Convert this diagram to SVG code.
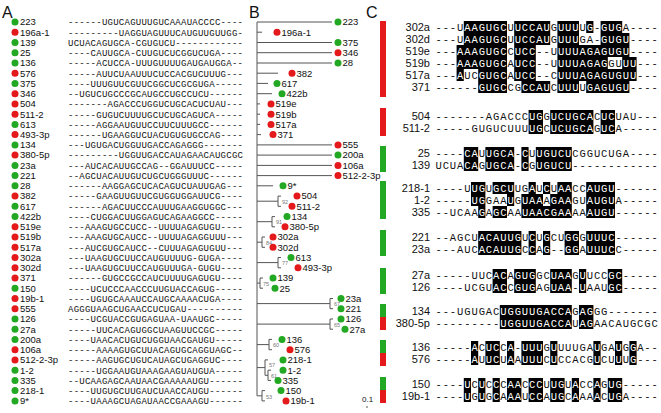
<svg xmlns="http://www.w3.org/2000/svg" width="661" height="413" viewBox="0 0 661 413">
<style>
text{font-family:"Liberation Sans",Arial,sans-serif;fill:#111}
.pl{font-size:16px}
.nm{font-size:9.5px}
.sa{font-family:"Liberation Mono",monospace;font-size:9px;letter-spacing:0.25px}
.sc{font-family:"Liberation Mono",monospace;font-size:10.5px;letter-spacing:0.9px}
.cn{font-size:11px;text-anchor:end}
.w{fill:#fff}
.g{fill:#22a822}
.r{fill:#e3191c}
.tl{stroke:#555;stroke-width:1;fill:none}
.bs{font-size:5.5px;fill:#777}
.hl{fill:#000}
</style>
<rect width="661" height="413" fill="#fff"/>
<text class="pl" x="2" y="18">A</text>
<text class="pl" x="249" y="18">B</text>
<text class="pl" x="366" y="18">C</text>

<!-- Panel A -->
<g id="panelA">
<g id="a-223"><circle class="g" cx="15" cy="22" r="3.5"/><text class="nm" x="20" y="25.3">223</text><text class="sa" x="68" y="25.3">------UGUCAGUUUGUCAAAUACCCC----</text></g>
<g id="a-196a-1"><circle class="r" cx="15" cy="32.2" r="3.5"/><text class="nm" x="20" y="35.5">196a-1</text><text class="sa" x="68" y="35.5">---------UAGGUAGUUUCAUGUUGUUGG-</text></g>
<g id="a-139"><circle class="g" cx="15" cy="42.5" r="3.5"/><text class="nm" x="20" y="45.8">139</text><text class="sa" x="68" y="45.8">UCUACAGUGCA-CGUGUCU------------</text></g>
<g id="a-25"><circle class="g" cx="15" cy="52.7" r="3.5"/><text class="nm" x="20" y="56">25</text><text class="sa" x="68" y="56">----CAUUGCA-CUUGUCUCGGUCUGA----</text></g>
<g id="a-136"><circle class="g" cx="15" cy="63" r="3.5"/><text class="nm" x="20" y="66.3">136</text><text class="sa" x="68" y="66.3">-----ACUCCA-UUUGUUUUGAUGAUGGA--</text></g>
<g id="a-576"><circle class="r" cx="15" cy="73.2" r="3.5"/><text class="nm" x="20" y="76.5">576</text><text class="sa" x="68" y="76.5">-----AUUCUAAUUUCUCCACGUCUUUG---</text></g>
<g id="a-375"><circle class="g" cx="15" cy="83.4" r="3.5"/><text class="nm" x="20" y="86.7">375</text><text class="sa" x="68" y="86.7">----UUUGUUCGUUCGGCUCGCGUGA-----</text></g>
<g id="a-346"><circle class="r" cx="15" cy="93.7" r="3.5"/><text class="nm" x="20" y="97">346</text><text class="sa" x="68" y="97">--UGUCUGCCCGCAUGCCUGCCUCU------</text></g>
<g id="a-504"><circle class="r" cx="15" cy="103.9" r="3.5"/><text class="nm" x="20" y="107.2">504</text><text class="sa" x="68" y="107.2">-------AGACCCUGGUCUGCACUCUAU---</text></g>
<g id="a-511-2"><circle class="r" cx="15" cy="114.2" r="3.5"/><text class="nm" x="20" y="117.5">511-2</text><text class="sa" x="68" y="117.5">-----GUGUCUUUUGCUCUGCAGUCA-----</text></g>
<g id="a-613"><circle class="g" cx="15" cy="124.4" r="3.5"/><text class="nm" x="20" y="127.7">613</text><text class="sa" x="68" y="127.7">-----AGGAAUGUUCCUUCUUUGCC------</text></g>
<g id="a-493-3p"><circle class="r" cx="15" cy="134.6" r="3.5"/><text class="nm" x="20" y="137.9">493-3p</text><text class="sa" x="68" y="137.9">------UGAAGGUCUACUGUGUGCCAG----</text></g>
<g id="a-134"><circle class="g" cx="15" cy="144.9" r="3.5"/><text class="nm" x="20" y="148.2">134</text><text class="sa" x="68" y="148.2">---UGUGACUGGUUGACCAGAGGG-------</text></g>
<g id="a-380-5p"><circle class="r" cx="15" cy="155.1" r="3.5"/><text class="nm" x="20" y="158.4">380-5p</text><text class="sa" x="68" y="158.4">---------UGGUUGACCAUAGAACAUGCGC</text></g>
<g id="a-23a"><circle class="g" cx="15" cy="165.4" r="3.5"/><text class="nm" x="20" y="168.7">23a</text><text class="sa" x="68" y="168.7">---AUCACAUUGCCAG--GGAUUUCC-----</text></g>
<g id="a-221"><circle class="g" cx="15" cy="175.6" r="3.5"/><text class="nm" x="20" y="178.9">221</text><text class="sa" x="68" y="178.9">--AGCUACAUUGUCUGCUGGGUUUC------</text></g>
<g id="a-28"><circle class="g" cx="15" cy="185.8" r="3.5"/><text class="nm" x="20" y="189.1">28</text><text class="sa" x="68" y="189.1">------AAGGAGCUCACAGUCUAUUGAG---</text></g>
<g id="a-382"><circle class="r" cx="15" cy="196.1" r="3.5"/><text class="nm" x="20" y="199.4">382</text><text class="sa" x="68" y="199.4">-----GAAGUUGUUCGUGGUGGAUUCG----</text></g>
<g id="a-617"><circle class="g" cx="15" cy="206.3" r="3.5"/><text class="nm" x="20" y="209.6">617</text><text class="sa" x="68" y="209.6">------AGACUUCCCAUUUGAAGGUGGC---</text></g>
<g id="a-422b"><circle class="g" cx="15" cy="216.6" r="3.5"/><text class="nm" x="20" y="219.9">422b</text><text class="sa" x="68" y="219.9">----CUGGACUUGGAGUCAGAAGGCC-----</text></g>
<g id="a-519e"><circle class="r" cx="15" cy="226.8" r="3.5"/><text class="nm" x="20" y="230.1">519e</text><text class="sa" x="68" y="230.1">---AAAGUGCCUCC--UUUUAGAGUGU----</text></g>
<g id="a-519b"><circle class="r" cx="15" cy="237" r="3.5"/><text class="nm" x="20" y="240.3">519b</text><text class="sa" x="68" y="240.3">---AAAGUGCAUCC--UUUUAGAGGUUU---</text></g>
<g id="a-517a"><circle class="r" cx="15" cy="247.3" r="3.5"/><text class="nm" x="20" y="250.6">517a</text><text class="sa" x="68" y="250.6">---AUCGUGCAUCC--CUUUAGAGUGUU---</text></g>
<g id="a-302a"><circle class="r" cx="15" cy="257.5" r="3.5"/><text class="nm" x="20" y="260.8">302a</text><text class="sa" x="68" y="260.8">---UAAGUGCUUCCAUGUUUUG-GUGA----</text></g>
<g id="a-302d"><circle class="r" cx="15" cy="267.8" r="3.5"/><text class="nm" x="20" y="271.1">302d</text><text class="sa" x="68" y="271.1">---UAAGUGCUUCCAUGUUUGA-GUGU----</text></g>
<g id="a-371"><circle class="r" cx="15" cy="278" r="3.5"/><text class="nm" x="20" y="281.3">371</text><text class="sa" x="68" y="281.3">------GUGCCGCCAUCUUUUGAGUGU----</text></g>
<g id="a-150"><circle class="g" cx="15" cy="288.2" r="3.5"/><text class="nm" x="20" y="291.5">150</text><text class="sa" x="68" y="291.5">----UCUCCCAACCCUUGUACCAGUG-----</text></g>
<g id="a-19b-1"><circle class="r" cx="15" cy="298.5" r="3.5"/><text class="nm" x="20" y="301.8">19b-1</text><text class="sa" x="68" y="301.8">----UGUGCAAAUCCAUGCAAAACUGA----</text></g>
<g id="a-555"><circle class="r" cx="15" cy="308.7" r="3.5"/><text class="nm" x="20" y="312">555</text><text class="sa" x="68" y="312">AGGGUAAGCUGAACCUCUGAU----------</text></g>
<g id="a-126"><circle class="g" cx="15" cy="319" r="3.5"/><text class="nm" x="20" y="322.3">126</text><text class="sa" x="68" y="322.3">----UCGUACCGUGAGUAA-UAAUGC-----</text></g>
<g id="a-27a"><circle class="g" cx="15" cy="329.2" r="3.5"/><text class="nm" x="20" y="332.5">27a</text><text class="sa" x="68" y="332.5">-----UUCACAGUGGCUAAGUUCCGC-----</text></g>
<g id="a-200a"><circle class="g" cx="15" cy="339.4" r="3.5"/><text class="nm" x="20" y="342.7">200a</text><text class="sa" x="68" y="342.7">----UAACACUGUCUGGUAACGAUGU-----</text></g>
<g id="a-106a"><circle class="r" cx="15" cy="349.7" r="3.5"/><text class="nm" x="20" y="353">106a</text><text class="sa" x="68" y="353">-----AAAAGUGCUUACAGUGCAGGUAGC--</text></g>
<g id="a-512-2-3p"><circle class="r" cx="15" cy="359.9" r="3.5"/><text class="nm" x="20" y="363.2">512-2-3p</text><text class="sa" x="68" y="363.2">-----AAGUGCUGUCAUAGCUGAGGUC----</text></g>
<g id="a-1-2"><circle class="g" cx="15" cy="370.2" r="3.5"/><text class="nm" x="20" y="373.5">1-2</text><text class="sa" x="68" y="373.5">-----UGGAAUGUAAAGAAGUAUGUA-----</text></g>
<g id="a-335"><circle class="g" cx="15" cy="380.4" r="3.5"/><text class="nm" x="20" y="383.7">335</text><text class="sa" x="68" y="383.7">--UCAAGAGCAAUAACGAAAAAUGU------</text></g>
<g id="a-218-1"><circle class="g" cx="15" cy="390.6" r="3.5"/><text class="nm" x="20" y="393.9">218-1</text><text class="sa" x="68" y="393.9">----UUGUGCUUGAUCUAACCAUGU------</text></g>
<g id="a-9s"><circle class="g" cx="15" cy="400.9" r="3.5"/><text class="nm" x="20" y="404.2">9*</text><text class="sa" x="68" y="404.2">----UAAAGCUAGAUAACCGAAAGU------</text></g>
</g>

<!-- Panel B connectors -->
<g id="connectors">
<path class="tl" d="M257 22V395.8
M257 22H332 M257 32.2H262 M257 42.5H332 M257 52.7H332 M257 63H332
M257 73.2H278 M257 83.4H268 M257 93.7H272 M257 103.9H260 M257 114.2H260 M257 124.4H260 M257 134.6H261
M257 144.9H332 M257 155.1H332 M257 165.4H332 M257 175.6H332 M257 185.8H273
M257 201.2H278 M281 196.1H278V206.3H281
M257 221.7H272 M275 216.6H272V226.8H275
M257 242.2H262 M265 237H262V247.3H265
M257 262.6H278 M281 257.5H278V267.8H281
M257 283.1H260 M263 278H260V288.2H263
M257 303.6H330 M333 298.5H330V308.7H333
M257 324.1H330 M333 319H330V329.2H333
M257 344.6H269 M272 339.4H269V349.7H272
M257 367.6H265 M268 359.9H265V375.3H268 M271 370.2H268V380.4H271
M257 395.8H262 M265 390.6H262V400.9H265"/>
<text class="bs" x="282" y="203.5">92</text>
<text class="bs" x="276" y="224">91</text>
<text class="bs" x="266" y="244.5">84</text>
<text class="bs" x="282" y="265">77</text>
<text class="bs" x="263" y="285.5">75</text>
<text class="bs" x="334" y="306">67</text>
<text class="bs" x="334" y="326.5">65</text>
<text class="bs" x="273" y="347">60</text>
<text class="bs" x="269" y="367">57</text>
<text class="bs" x="271" y="378">61</text>
<text class="bs" x="266" y="398.5">53</text>
</g>

<!-- Panel B leaves -->
<g id="panelB">
<g id="b-223"><circle class="g" cx="338" cy="22" r="3.5"/><text class="nm" x="342.5" y="25.3">223</text></g>
<g id="b-196a-1"><circle class="r" cx="277" cy="32.2" r="3.5"/><text class="nm" x="281.5" y="35.5">196a-1</text></g>
<g id="b-375"><circle class="g" cx="338" cy="42.5" r="3.5"/><text class="nm" x="342.5" y="45.8">375</text></g>
<g id="b-346"><circle class="r" cx="338" cy="52.7" r="3.5"/><text class="nm" x="342.5" y="56">346</text></g>
<g id="b-28"><circle class="g" cx="338" cy="63" r="3.5"/><text class="nm" x="342.5" y="66.3">28</text></g>
<g id="b-382"><circle class="r" cx="292" cy="73.2" r="3.5"/><text class="nm" x="296.5" y="76.5">382</text></g>
<g id="b-617"><circle class="g" cx="277" cy="83.4" r="3.5"/><text class="nm" x="281.5" y="86.7">617</text></g>
<g id="b-422b"><circle class="g" cx="282" cy="93.7" r="3.5"/><text class="nm" x="286.5" y="97">422b</text></g>
<g id="b-519e"><circle class="r" cx="271" cy="103.9" r="3.5"/><text class="nm" x="275.5" y="107.2">519e</text></g>
<g id="b-519b"><circle class="r" cx="271" cy="114.2" r="3.5"/><text class="nm" x="275.5" y="117.5">519b</text></g>
<g id="b-517a"><circle class="r" cx="271" cy="124.4" r="3.5"/><text class="nm" x="275.5" y="127.7">517a</text></g>
<g id="b-371"><circle class="r" cx="273" cy="134.6" r="3.5"/><text class="nm" x="277.5" y="137.9">371</text></g>
<g id="b-555"><circle class="r" cx="338" cy="144.9" r="3.5"/><text class="nm" x="342.5" y="148.2">555</text></g>
<g id="b-200a"><circle class="g" cx="338" cy="155.1" r="3.5"/><text class="nm" x="342.5" y="158.4">200a</text></g>
<g id="b-106a"><circle class="r" cx="338" cy="165.4" r="3.5"/><text class="nm" x="342.5" y="168.7">106a</text></g>
<g id="b-512-2-3p"><circle class="r" cx="338" cy="175.6" r="3.5"/><text class="nm" x="342.5" y="178.9">512-2-3p</text></g>
<g id="b-9s"><circle class="g" cx="283" cy="185.8" r="3.5"/><text class="nm" x="287.5" y="189.1">9*</text></g>
<g id="b-504"><circle class="r" cx="297" cy="196.1" r="3.5"/><text class="nm" x="301.5" y="199.4">504</text></g>
<g id="b-511-2"><circle class="r" cx="292" cy="206.3" r="3.5"/><text class="nm" x="296.5" y="209.6">511-2</text></g>
<g id="b-134"><circle class="g" cx="287" cy="216.6" r="3.5"/><text class="nm" x="291.5" y="219.9">134</text></g>
<g id="b-380-5p"><circle class="r" cx="285" cy="226.8" r="3.5"/><text class="nm" x="289.5" y="230.1">380-5p</text></g>
<g id="b-302a"><circle class="r" cx="273" cy="237" r="3.5"/><text class="nm" x="277.5" y="240.3">302a</text></g>
<g id="b-302d"><circle class="r" cx="273" cy="247.3" r="3.5"/><text class="nm" x="277.5" y="250.6">302d</text></g>
<g id="b-613"><circle class="g" cx="291" cy="257.5" r="3.5"/><text class="nm" x="295.5" y="260.8">613</text></g>
<g id="b-493-3p"><circle class="r" cx="298" cy="267.8" r="3.5"/><text class="nm" x="302.5" y="271.1">493-3p</text></g>
<g id="b-139"><circle class="g" cx="273" cy="278" r="3.5"/><text class="nm" x="277.5" y="281.3">139</text></g>
<g id="b-25"><circle class="g" cx="275" cy="288.2" r="3.5"/><text class="nm" x="279.5" y="291.5">25</text></g>
<g id="b-23a"><circle class="g" cx="341" cy="298.5" r="3.5"/><text class="nm" x="345.5" y="301.8">23a</text></g>
<g id="b-221"><circle class="g" cx="341" cy="308.7" r="3.5"/><text class="nm" x="345.5" y="312">221</text></g>
<g id="b-126"><circle class="g" cx="341" cy="319" r="3.5"/><text class="nm" x="345.5" y="322.3">126</text></g>
<g id="b-27a"><circle class="g" cx="345" cy="329.2" r="3.5"/><text class="nm" x="349.5" y="332.5">27a</text></g>
<g id="b-136"><circle class="g" cx="282" cy="339.4" r="3.5"/><text class="nm" x="286.5" y="342.7">136</text></g>
<g id="b-576"><circle class="r" cx="290" cy="349.7" r="3.5"/><text class="nm" x="294.5" y="353">576</text></g>
<g id="b-218-1"><circle class="g" cx="283" cy="359.9" r="3.5"/><text class="nm" x="287.5" y="363.2">218-1</text></g>
<g id="b-1-2"><circle class="g" cx="283" cy="370.2" r="3.5"/><text class="nm" x="287.5" y="373.5">1-2</text></g>
<g id="b-335"><circle class="g" cx="278" cy="380.4" r="3.5"/><text class="nm" x="282.5" y="383.7">335</text></g>
<g id="b-150"><circle class="g" cx="281" cy="390.6" r="3.5"/><text class="nm" x="285.5" y="393.9">150</text></g>
<g id="b-19b-1"><circle class="r" cx="286" cy="400.9" r="3.5"/><text class="nm" x="290.5" y="404.2">19b-1</text></g>
</g>
<g id="scale"><text x="362" y="402" style="font-size:8px">0.1</text><path class="tl" d="M366 407H368"/></g>

<!-- Panel C -->
<g id="panelC">
<g id="bars">
<rect class="r" x="380" y="21" width="6" height="76"/>
<rect class="r" x="380" y="108" width="6" height="28"/>
<rect class="g" x="380" y="146" width="6" height="26"/>
<rect class="g" x="380" y="181" width="6" height="38"/>
<rect class="g" x="380" y="230" width="6" height="26"/>
<rect class="g" x="380" y="268" width="6" height="26"/>
<rect class="g" x="380" y="304" width="6" height="13"/><rect class="r" x="380" y="317" width="6" height="13"/>
<rect class="g" x="380" y="340" width="6" height="13"/><rect class="r" x="380" y="353" width="6" height="13"/>
<rect class="g" x="380" y="377" width="6" height="13"/><rect class="r" x="380" y="390" width="6" height="13"/>
</g>
<g id="c-302a"><text class="cn" x="430" y="31">302a</text>
<rect class="hl" x="463.8" y="21" width="43.2" height="12"/><rect class="hl" x="514.2" y="21" width="36" height="12"/><rect class="hl" x="557.4" y="21" width="21.6" height="12"/><rect class="hl" x="586.2" y="21" width="7.2" height="12"/><rect class="hl" x="600.6" y="21" width="21.6" height="12"/>
<text class="sc" x="435.45" y="30.7">---U<tspan class="w">AAGUGC</tspan>U<tspan class="w">UCCAU</tspan>G<tspan class="w">UUU</tspan>U<tspan class="w">G</tspan>-<tspan class="w">GUG</tspan>A----</text></g>
<g id="c-302d"><text class="cn" x="430" y="43">302d</text>
<rect class="hl" x="463.8" y="33" width="43.2" height="12"/><rect class="hl" x="514.2" y="33" width="36" height="12"/><rect class="hl" x="557.4" y="33" width="21.6" height="12"/><rect class="hl" x="600.6" y="33" width="28.8" height="12"/>
<text class="sc" x="435.45" y="42.7">---U<tspan class="w">AAGUGC</tspan>U<tspan class="w">UCCAU</tspan>G<tspan class="w">UUU</tspan>GA-<tspan class="w">GUGU</tspan>----</text></g>
<g id="c-519e"><text class="cn" x="430" y="55">519e</text>
<rect class="hl" x="456.6" y="45" width="50.4" height="12"/><rect class="hl" x="514.2" y="45" width="21.6" height="12"/><rect class="hl" x="557.4" y="45" width="72" height="12"/>
<text class="sc" x="435.45" y="54.7">---<tspan class="w">AAAGUGC</tspan>C<tspan class="w">UCC</tspan>--U<tspan class="w">UUUAGAGUGU</tspan>----</text></g>
<g id="c-519b"><text class="cn" x="430" y="67">519b</text>
<rect class="hl" x="456.6" y="57" width="50.4" height="12"/><rect class="hl" x="514.2" y="57" width="21.6" height="12"/><rect class="hl" x="557.4" y="57" width="50.4" height="12"/><rect class="hl" x="622.2" y="57" width="14.4" height="12"/>
<text class="sc" x="435.45" y="66.7">---<tspan class="w">AAAGUGC</tspan>A<tspan class="w">UCC</tspan>--U<tspan class="w">UUUAGAG</tspan>GU<tspan class="w">UU</tspan>---</text></g>
<g id="c-517a"><text class="cn" x="430" y="79">517a</text>
<rect class="hl" x="456.6" y="69" width="7.2" height="12"/><rect class="hl" x="478.2" y="69" width="28.8" height="12"/><rect class="hl" x="514.2" y="69" width="21.6" height="12"/><rect class="hl" x="557.4" y="69" width="79.2" height="12"/>
<text class="sc" x="435.45" y="78.7">---<tspan class="w">A</tspan>UC<tspan class="w">GUGC</tspan>A<tspan class="w">UCC</tspan>--C<tspan class="w">UUUAGAGUGUU</tspan>---</text></g>
<g id="c-371"><text class="cn" x="430" y="91">371</text>
<rect class="hl" x="478.2" y="81" width="28.8" height="12"/><rect class="hl" x="521.4" y="81" width="28.8" height="12"/><rect class="hl" x="557.4" y="81" width="21.6" height="12"/><rect class="hl" x="586.2" y="81" width="43.2" height="12"/>
<text class="sc" x="435.45" y="90.7">------<tspan class="w">GUGC</tspan>CG<tspan class="w">CCAU</tspan>C<tspan class="w">UUU</tspan>U<tspan class="w">GAGUGU</tspan>----</text></g>

<rect class="hl" x="528.6" y="110" width="14.4" height="24"/><rect class="hl" x="550.2" y="110" width="43.2" height="24"/><rect class="hl" x="600.6" y="110" width="14.4" height="24"/>
<g id="c-504"><text class="cn" x="430" y="120">504</text>
<text class="sc" x="435.45" y="119.7">-------AGACCC<tspan class="w">UG</tspan>G<tspan class="w">UCUGCA</tspan>C<tspan class="w">UC</tspan>UAU---</text></g>
<g id="c-511-2"><text class="cn" x="430" y="132">511-2</text>
<text class="sc" x="435.45" y="131.7">-----GUGUCUUU<tspan class="w">UG</tspan>C<tspan class="w">UCUGCA</tspan>G<tspan class="w">UC</tspan>A-----</text></g>

<rect class="hl" x="463.8" y="147" width="14.4" height="24"/><rect class="hl" x="485.4" y="147" width="28.8" height="24"/><rect class="hl" x="521.4" y="147" width="7.2" height="24"/><rect class="hl" x="535.8" y="147" width="36" height="24"/>
<g id="c-25"><text class="cn" x="430" y="157">25</text>
<text class="sc" x="435.45" y="156.7">----<tspan class="w">CA</tspan>U<tspan class="w">UGCA</tspan>-<tspan class="w">C</tspan>U<tspan class="w">UGUCU</tspan>CGGUCUGA----</text></g>
<g id="c-139"><text class="cn" x="430" y="169">139</text>
<text class="sc" x="435.45" y="168.7">UCUA<tspan class="w">CA</tspan>G<tspan class="w">UGCA</tspan>-<tspan class="w">C</tspan>G<tspan class="w">UGUCU</tspan>------------</text></g>

<g id="c-218-1"><text class="cn" x="430" y="192">218-1</text>
<rect class="hl" x="471" y="182" width="14.4" height="12"/><rect class="hl" x="492.6" y="182" width="21.6" height="12"/><rect class="hl" x="528.6" y="182" width="7.2" height="12"/><rect class="hl" x="543" y="182" width="7.2" height="12"/><rect class="hl" x="557.4" y="182" width="14.4" height="12"/><rect class="hl" x="586.2" y="182" width="28.8" height="12"/>
<text class="sc" x="435.45" y="191.7">----U<tspan class="w">UG</tspan>U<tspan class="w">GCU</tspan>UG<tspan class="w">A</tspan>U<tspan class="w">C</tspan>U<tspan class="w">AA</tspan>CC<tspan class="w">AUGU</tspan>------</text></g>
<g id="c-1-2"><text class="cn" x="430" y="204">1-2</text>
<rect class="hl" x="471" y="194" width="14.4" height="12"/><rect class="hl" x="507" y="194" width="7.2" height="12"/><rect class="hl" x="521.4" y="194" width="21.6" height="12"/><rect class="hl" x="550.2" y="194" width="21.6" height="12"/><rect class="hl" x="586.2" y="194" width="28.8" height="12"/>
<text class="sc" x="435.45" y="203.7">-----<tspan class="w">UG</tspan>GAA<tspan class="w">U</tspan>G<tspan class="w">UAA</tspan>A<tspan class="w">GAA</tspan>GU<tspan class="w">AUGU</tspan>A-----</text></g>
<g id="c-335"><text class="cn" x="430" y="216">335</text>
<rect class="hl" x="478.2" y="206" width="7.2" height="12"/><rect class="hl" x="492.6" y="206" width="14.4" height="12"/><rect class="hl" x="521.4" y="206" width="50.4" height="12"/><rect class="hl" x="586.2" y="206" width="28.8" height="12"/>
<text class="sc" x="435.45" y="215.7">--UCAA<tspan class="w">G</tspan>A<tspan class="w">GC</tspan>AA<tspan class="w">UAACGAA</tspan>AA<tspan class="w">AUGU</tspan>------</text></g>

<rect class="hl" x="478.2" y="231" width="43.2" height="24"/><rect class="hl" x="528.6" y="231" width="7.2" height="24"/><rect class="hl" x="543" y="231" width="7.2" height="24"/><rect class="hl" x="564.6" y="231" width="14.4" height="24"/><rect class="hl" x="586.2" y="231" width="28.8" height="24"/>
<g id="c-221"><text class="cn" x="430" y="241">221</text>
<text class="sc" x="435.45" y="240.7">--AGCU<tspan class="w">ACAUUG</tspan>U<tspan class="w">C</tspan>U<tspan class="w">G</tspan>CU<tspan class="w">GG</tspan>G<tspan class="w">UUUC</tspan>------</text></g>
<g id="c-23a"><text class="cn" x="430" y="253">23a</text>
<text class="sc" x="435.45" y="252.7">---AUC<tspan class="w">ACAUUG</tspan>C<tspan class="w">C</tspan>A<tspan class="w">G</tspan>--<tspan class="w">GG</tspan>A<tspan class="w">UUUC</tspan>C-----</text></g>

<rect class="hl" x="492.6" y="269" width="14.4" height="24"/><rect class="hl" x="514.2" y="269" width="21.6" height="24"/><rect class="hl" x="550.2" y="269" width="21.6" height="24"/><rect class="hl" x="579" y="269" width="7.2" height="24"/><rect class="hl" x="607.8" y="269" width="14.4" height="24"/>
<g id="c-27a"><text class="cn" x="430" y="279">27a</text>
<text class="sc" x="435.45" y="278.7">-----UUC<tspan class="w">AC</tspan>A<tspan class="w">GUG</tspan>GC<tspan class="w">UAA</tspan>G<tspan class="w">U</tspan>UCC<tspan class="w">GC</tspan>-----</text></g>
<g id="c-126"><text class="cn" x="430" y="291">126</text>
<text class="sc" x="435.45" y="290.7">----UCGU<tspan class="w">AC</tspan>C<tspan class="w">GUG</tspan>AG<tspan class="w">UAA</tspan>-<tspan class="w">U</tspan>AAU<tspan class="w">GC</tspan>-----</text></g>

<rect class="hl" x="499.8" y="305" width="72" height="24"/><rect class="hl" x="579" y="305" width="14.4" height="24"/>
<g id="c-134"><text class="cn" x="430" y="315">134</text>
<text class="sc" x="435.45" y="314.7">---UGUGAC<tspan class="w">UGGUUGACCA</tspan>G<tspan class="w">AG</tspan>GG-------</text></g>
<g id="c-380-5p"><text class="cn" x="430" y="327">380-5p</text>
<text class="sc" x="435.45" y="326.7">---------<tspan class="w">UGGUUGACCA</tspan>U<tspan class="w">AG</tspan>AACAUGCGC</text></g>

<rect class="hl" x="471" y="341" width="7.2" height="24"/><rect class="hl" x="485.4" y="341" width="14.4" height="24"/><rect class="hl" x="507" y="341" width="7.2" height="24"/><rect class="hl" x="521.4" y="341" width="21.6" height="24"/><rect class="hl" x="550.2" y="341" width="7.2" height="24"/><rect class="hl" x="593.4" y="341" width="7.2" height="24"/><rect class="hl" x="615" y="341" width="7.2" height="24"/><rect class="hl" x="629.4" y="341" width="7.2" height="24"/>
<g id="c-136"><text class="cn" x="430" y="351">136</text>
<text class="sc" x="435.45" y="350.7">-----<tspan class="w">A</tspan>C<tspan class="w">UC</tspan>C<tspan class="w">A</tspan>-<tspan class="w">UUU</tspan>G<tspan class="w">U</tspan>UUUGA<tspan class="w">U</tspan>GA<tspan class="w">U</tspan>G<tspan class="w">G</tspan>A--</text></g>
<g id="c-576"><text class="cn" x="430" y="363">576</text>
<text class="sc" x="435.45" y="362.7">-----<tspan class="w">A</tspan>U<tspan class="w">UC</tspan>U<tspan class="w">A</tspan>A<tspan class="w">UUU</tspan>C<tspan class="w">U</tspan>CCACG<tspan class="w">U</tspan>CU<tspan class="w">U</tspan>U<tspan class="w">G</tspan>---</text></g>

<rect class="hl" x="463.8" y="378" width="7.2" height="24"/><rect class="hl" x="478.2" y="378" width="7.2" height="24"/><rect class="hl" x="492.6" y="378" width="7.2" height="24"/><rect class="hl" x="507" y="378" width="14.4" height="24"/><rect class="hl" x="528.6" y="378" width="14.4" height="24"/><rect class="hl" x="550.2" y="378" width="14.4" height="24"/><rect class="hl" x="571.8" y="378" width="7.2" height="24"/><rect class="hl" x="593.4" y="378" width="7.2" height="24"/><rect class="hl" x="607.8" y="378" width="14.4" height="24"/>
<g id="c-150"><text class="cn" x="430" y="388">150</text>
<text class="sc" x="435.45" y="387.7">----<tspan class="w">U</tspan>C<tspan class="w">U</tspan>C<tspan class="w">C</tspan>C<tspan class="w">AA</tspan>C<tspan class="w">CC</tspan>U<tspan class="w">UG</tspan>U<tspan class="w">A</tspan>CC<tspan class="w">A</tspan>G<tspan class="w">UG</tspan>-----</text></g>
<g id="c-19b-1"><text class="cn" x="430" y="400">19b-1</text>
<text class="sc" x="435.45" y="399.7">----<tspan class="w">U</tspan>G<tspan class="w">U</tspan>G<tspan class="w">C</tspan>A<tspan class="w">AA</tspan>U<tspan class="w">CC</tspan>A<tspan class="w">UG</tspan>C<tspan class="w">A</tspan>AA<tspan class="w">A</tspan>C<tspan class="w">UG</tspan>A----</text></g>
</g>
</svg>
